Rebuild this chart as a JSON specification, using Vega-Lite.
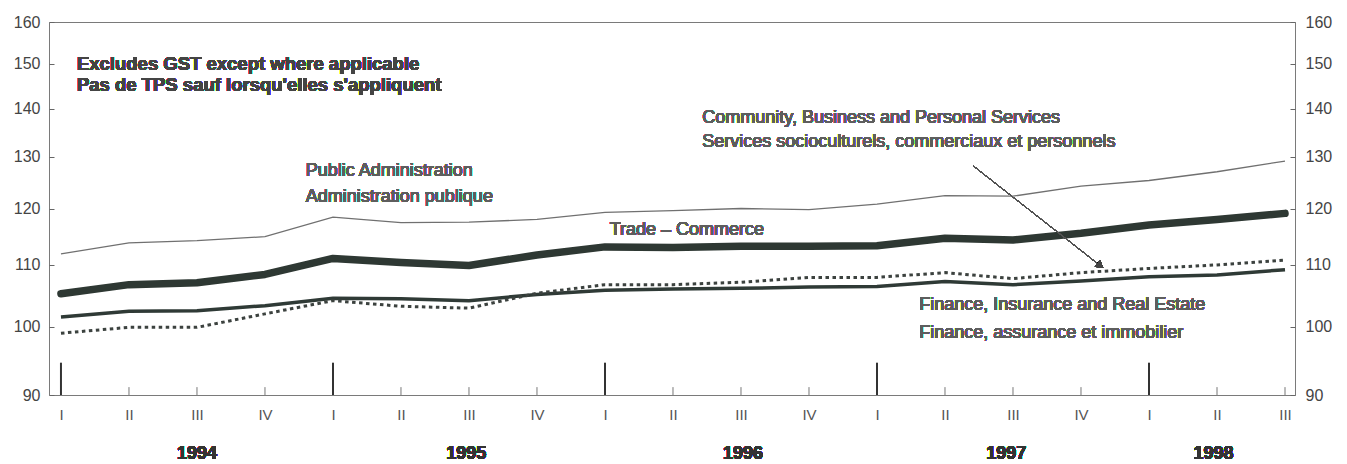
{
  "$schema": "https://vega.github.io/schema/vega-lite/v6.json",
  "autosize": {"type": "none"},
  "width": 1246,
  "height": 373,
  "padding": {"left": 49, "top": 22, "right": 52, "bottom": 69},
  "background": "white",
  "config": {
    "view": {"stroke": "#7a7a7a", "strokeWidth": 1},
    "axis": {"grid": false, "title": null, "domain": false, "labelFont": "Liberation Sans"},
    "text": {"font": "Liberation Sans"}
  },
  "datasets": {
    "series": [
      {"t": 0, "year": 1994, "quarter": "I", "series": "Public Administration", "value": 111.9},
      {"t": 1, "year": 1994, "quarter": "II", "series": "Public Administration", "value": 113.8},
      {"t": 2, "year": 1994, "quarter": "III", "series": "Public Administration", "value": 114.2},
      {"t": 3, "year": 1994, "quarter": "IV", "series": "Public Administration", "value": 114.9},
      {"t": 4, "year": 1995, "quarter": "I", "series": "Public Administration", "value": 118.4},
      {"t": 5, "year": 1995, "quarter": "II", "series": "Public Administration", "value": 117.4},
      {"t": 6, "year": 1995, "quarter": "III", "series": "Public Administration", "value": 117.5},
      {"t": 7, "year": 1995, "quarter": "IV", "series": "Public Administration", "value": 118.0},
      {"t": 8, "year": 1996, "quarter": "I", "series": "Public Administration", "value": 119.3},
      {"t": 9, "year": 1996, "quarter": "II", "series": "Public Administration", "value": 119.6},
      {"t": 10, "year": 1996, "quarter": "III", "series": "Public Administration", "value": 120.0},
      {"t": 11, "year": 1996, "quarter": "IV", "series": "Public Administration", "value": 119.8},
      {"t": 12, "year": 1997, "quarter": "I", "series": "Public Administration", "value": 120.8},
      {"t": 13, "year": 1997, "quarter": "II", "series": "Public Administration", "value": 122.4},
      {"t": 14, "year": 1997, "quarter": "III", "series": "Public Administration", "value": 122.3},
      {"t": 15, "year": 1997, "quarter": "IV", "series": "Public Administration", "value": 124.2},
      {"t": 16, "year": 1998, "quarter": "I", "series": "Public Administration", "value": 125.3},
      {"t": 17, "year": 1998, "quarter": "II", "series": "Public Administration", "value": 127.0},
      {"t": 18, "year": 1998, "quarter": "III", "series": "Public Administration", "value": 129.1},
      {"t": 0, "year": 1994, "quarter": "I", "series": "Trade", "value": 105.2},
      {"t": 1, "year": 1994, "quarter": "II", "series": "Trade", "value": 106.7},
      {"t": 2, "year": 1994, "quarter": "III", "series": "Trade", "value": 107.0},
      {"t": 3, "year": 1994, "quarter": "IV", "series": "Trade", "value": 108.4},
      {"t": 4, "year": 1995, "quarter": "I", "series": "Trade", "value": 111.1},
      {"t": 5, "year": 1995, "quarter": "II", "series": "Trade", "value": 110.4},
      {"t": 6, "year": 1995, "quarter": "III", "series": "Trade", "value": 109.9},
      {"t": 7, "year": 1995, "quarter": "IV", "series": "Trade", "value": 111.7},
      {"t": 8, "year": 1996, "quarter": "I", "series": "Trade", "value": 113.1},
      {"t": 9, "year": 1996, "quarter": "II", "series": "Trade", "value": 113.0},
      {"t": 10, "year": 1996, "quarter": "III", "series": "Trade", "value": 113.2},
      {"t": 11, "year": 1996, "quarter": "IV", "series": "Trade", "value": 113.2},
      {"t": 12, "year": 1997, "quarter": "I", "series": "Trade", "value": 113.3},
      {"t": 13, "year": 1997, "quarter": "II", "series": "Trade", "value": 114.6},
      {"t": 14, "year": 1997, "quarter": "III", "series": "Trade", "value": 114.3},
      {"t": 15, "year": 1997, "quarter": "IV", "series": "Trade", "value": 115.5},
      {"t": 16, "year": 1998, "quarter": "I", "series": "Trade", "value": 117.0},
      {"t": 17, "year": 1998, "quarter": "II", "series": "Trade", "value": 118.0},
      {"t": 18, "year": 1998, "quarter": "III", "series": "Trade", "value": 119.1},
      {"t": 0, "year": 1994, "quarter": "I", "series": "Finance", "value": 101.5},
      {"t": 1, "year": 1994, "quarter": "II", "series": "Finance", "value": 102.4},
      {"t": 2, "year": 1994, "quarter": "III", "series": "Finance", "value": 102.5},
      {"t": 3, "year": 1994, "quarter": "IV", "series": "Finance", "value": 103.3},
      {"t": 4, "year": 1995, "quarter": "I", "series": "Finance", "value": 104.5},
      {"t": 5, "year": 1995, "quarter": "II", "series": "Finance", "value": 104.4},
      {"t": 6, "year": 1995, "quarter": "III", "series": "Finance", "value": 104.1},
      {"t": 7, "year": 1995, "quarter": "IV", "series": "Finance", "value": 105.1},
      {"t": 8, "year": 1996, "quarter": "I", "series": "Finance", "value": 105.8},
      {"t": 9, "year": 1996, "quarter": "II", "series": "Finance", "value": 106.0},
      {"t": 10, "year": 1996, "quarter": "III", "series": "Finance", "value": 106.1},
      {"t": 11, "year": 1996, "quarter": "IV", "series": "Finance", "value": 106.3},
      {"t": 12, "year": 1997, "quarter": "I", "series": "Finance", "value": 106.4},
      {"t": 13, "year": 1997, "quarter": "II", "series": "Finance", "value": 107.2},
      {"t": 14, "year": 1997, "quarter": "III", "series": "Finance", "value": 106.7},
      {"t": 15, "year": 1997, "quarter": "IV", "series": "Finance", "value": 107.3},
      {"t": 16, "year": 1998, "quarter": "I", "series": "Finance", "value": 108.0},
      {"t": 17, "year": 1998, "quarter": "II", "series": "Finance", "value": 108.3},
      {"t": 18, "year": 1998, "quarter": "III", "series": "Finance", "value": 109.2},
      {"t": 0, "year": 1994, "quarter": "I", "series": "Community", "value": 99.0},
      {"t": 1, "year": 1994, "quarter": "II", "series": "Community", "value": 99.9},
      {"t": 2, "year": 1994, "quarter": "III", "series": "Community", "value": 99.9},
      {"t": 3, "year": 1994, "quarter": "IV", "series": "Community", "value": 102.0},
      {"t": 4, "year": 1995, "quarter": "I", "series": "Community", "value": 104.1},
      {"t": 5, "year": 1995, "quarter": "II", "series": "Community", "value": 103.2},
      {"t": 6, "year": 1995, "quarter": "III", "series": "Community", "value": 102.9},
      {"t": 7, "year": 1995, "quarter": "IV", "series": "Community", "value": 105.3},
      {"t": 8, "year": 1996, "quarter": "I", "series": "Community", "value": 106.7},
      {"t": 9, "year": 1996, "quarter": "II", "series": "Community", "value": 106.7},
      {"t": 10, "year": 1996, "quarter": "III", "series": "Community", "value": 107.1},
      {"t": 11, "year": 1996, "quarter": "IV", "series": "Community", "value": 107.9},
      {"t": 12, "year": 1997, "quarter": "I", "series": "Community", "value": 107.9},
      {"t": 13, "year": 1997, "quarter": "II", "series": "Community", "value": 108.7},
      {"t": 14, "year": 1997, "quarter": "III", "series": "Community", "value": 107.7},
      {"t": 15, "year": 1997, "quarter": "IV", "series": "Community", "value": 108.7},
      {"t": 16, "year": 1998, "quarter": "I", "series": "Community", "value": 109.4},
      {"t": 17, "year": 1998, "quarter": "II", "series": "Community", "value": 110.0},
      {"t": 18, "year": 1998, "quarter": "III", "series": "Community", "value": 110.8}
    ]
  },
  "data": {"name": "series"},
  "resolve": {"scale": {"x": "shared", "y": "shared"}, "axis": {"x": "independent", "y": "independent"}},
  "layer": [
    {
      "transform": [{"filter": "datum.series === 'Public Administration'"}],
      "mark": {"type": "line", "color": "#707070", "strokeWidth": 1.3},
      "encoding": {
        "x": {"field": "t", "type": "quantitative", "scale": {"domain": [-0.176, 18.147], "nice": false, "zero": false},
              "axis": {"orient": "bottom", "values": [0,1,2,3,4,5,6,7,8,9,10,11,12,13,14,15,16,17,18],
                       "labelExpr": "['I','II','III','IV'][datum.value % 4]", "ticks": false, "labelPadding": 12,
                       "labelFontSize": 15, "labelColor": "#555", "labelFlush": false, "labelOverlap": false}},
        "y": {"field": "value", "type": "quantitative", "scale": {"type": "log", "domain": [90, 160], "nice": false, "zero": false},
              "axis": {"orient": "left", "values": [90,100,110,120,130,140,150,160], "format": "d", "tickSize": -5,
                       "tickColor": "#666", "labelPadding": 14, "labelFontSize": 16, "labelColor": "#444", "labelOverlap": false}}
      }
    },
    {
      "transform": [{"filter": "datum.series === 'Finance'"}],
      "mark": {"type": "line", "color": "#2f3a36", "strokeWidth": 3.5},
      "encoding": {
        "x": {"field": "t", "type": "quantitative", "axis": null},
        "y": {"field": "value", "type": "quantitative", "scale": {"type": "log", "domain": [90, 160], "nice": false, "zero": false},
              "axis": {"orient": "right", "values": [90,100,110,120,130,140,150,160], "format": "d", "tickSize": -5,
                       "tickColor": "#666", "labelPadding": 15, "labelFontSize": 16, "labelColor": "#444", "labelOverlap": false}}
      }
    },
    {
      "transform": [{"filter": "datum.series === 'Community'"}],
      "mark": {"type": "line", "color": "#3c423f", "strokeWidth": 3, "strokeDash": [3.5, 3.5]},
      "encoding": {
        "x": {"field": "t", "type": "quantitative", "axis": null},
        "y": {"field": "value", "type": "quantitative", "axis": null}
      }
    },
    {
      "transform": [{"filter": "datum.series === 'Trade'"}],
      "mark": {"type": "line", "color": "#2e3833", "strokeWidth": 7.5, "strokeCap": "round", "strokeJoin": "round"},
      "encoding": {
        "x": {"field": "t", "type": "quantitative", "axis": null},
        "y": {"field": "value", "type": "quantitative", "axis": null}
      }
    },
    {
      "transform": [{"filter": "datum.series === 'Trade' && datum.quarter === 'I'"}],
      "mark": {"type": "rule", "color": "#333", "strokeWidth": 2},
      "encoding": {
        "x": {"field": "t", "type": "quantitative", "axis": null},
        "y": {"datum": 90, "axis": null},
        "y2": {"datum": 94.6}
      }
    },
    {
      "transform": [{"filter": "datum.series === 'Trade' && datum.quarter !== 'I'"}],
      "mark": {"type": "rule", "color": "#777", "strokeWidth": 1},
      "encoding": {
        "x": {"field": "t", "type": "quantitative", "axis": null},
        "y": {"datum": 90, "axis": null},
        "y2": {"datum": 91.1}
      }
    },
    {
      "mark": {"type": "rule", "color": "#555", "strokeWidth": 1},
      "encoding": {
        "x": {"datum": 13.42, "axis": null}, "y": {"datum": 128.1, "axis": null},
        "x2": {"datum": 15.27}, "y2": {"datum": 110.0}
      }
    },
    {
      "mark": {"type": "point", "shape": "triangle", "filled": true, "color": "#444", "size": 70, "angle": 128.5, "opacity": 1},
      "encoding": {"x": {"datum": 15.27, "axis": null}, "y": {"datum": 110.0, "axis": null}}
    },
    {
      "mark": {"type": "text", "align": "left", "baseline": "middle", "fontSize": 18.5, "fontWeight": "bold", "color": "#444"},
      "encoding": {"x": {"datum": 0.235, "axis": null}, "y": {"datum": 150.0, "axis": null}, "text": {"value": "Excludes GST except where applicable"}}
    },
    {
      "mark": {"type": "text", "align": "left", "baseline": "middle", "fontSize": 18.5, "fontWeight": "bold", "color": "#444"},
      "encoding": {"x": {"datum": 0.235, "axis": null}, "y": {"datum": 145.1, "axis": null}, "text": {"value": "Pas de TPS sauf lorsqu'elles s'appliquent"}}
    },
    {
      "mark": {"type": "text", "align": "left", "baseline": "middle", "fontSize": 18, "color": "#5e5e5e"},
      "encoding": {"x": {"datum": 3.6, "axis": null}, "y": {"datum": 127.2, "axis": null}, "text": {"value": "Public Administration"}}
    },
    {
      "mark": {"type": "text", "align": "left", "baseline": "middle", "fontSize": 18, "color": "#5e5e5e"},
      "encoding": {"x": {"datum": 3.6, "axis": null}, "y": {"datum": 122.1, "axis": null}, "text": {"value": "Administration publique"}}
    },
    {
      "mark": {"type": "text", "align": "left", "baseline": "middle", "fontSize": 18, "color": "#5e5e5e"},
      "encoding": {"x": {"datum": 8.07, "axis": null}, "y": {"datum": 116.0, "axis": null}, "text": {"value": "Trade – Commerce"}}
    },
    {
      "mark": {"type": "text", "align": "left", "baseline": "middle", "fontSize": 18, "color": "#5e5e5e"},
      "encoding": {"x": {"datum": 9.43, "axis": null}, "y": {"datum": 138.0, "axis": null}, "text": {"value": "Community, Business and Personal Services"}}
    },
    {
      "mark": {"type": "text", "align": "left", "baseline": "middle", "fontSize": 18, "color": "#5e5e5e"},
      "encoding": {"x": {"datum": 9.43, "axis": null}, "y": {"datum": 133.0, "axis": null}, "text": {"value": "Services socioculturels, commerciaux et personnels"}}
    },
    {
      "mark": {"type": "text", "align": "left", "baseline": "middle", "fontSize": 18, "color": "#5e5e5e"},
      "encoding": {"x": {"datum": 12.62, "axis": null}, "y": {"datum": 103.4, "axis": null}, "text": {"value": "Finance, Insurance and Real Estate"}}
    },
    {
      "mark": {"type": "text", "align": "left", "baseline": "middle", "fontSize": 18, "color": "#5e5e5e"},
      "encoding": {"x": {"datum": 12.62, "axis": null}, "y": {"datum": 99.1, "axis": null}, "text": {"value": "Finance, assurance et immobilier"}}
    },
    {
      "mark": {"type": "text", "align": "center", "baseline": "middle", "fontSize": 18, "fontWeight": "bold", "color": "#333"},
      "encoding": {"x": {"datum": 2.0, "axis": null}, "y": {"datum": 82.2, "axis": null}, "text": {"value": "1994"}}
    },
    {
      "mark": {"type": "text", "align": "center", "baseline": "middle", "fontSize": 18, "fontWeight": "bold", "color": "#333"},
      "encoding": {"x": {"datum": 5.96, "axis": null}, "y": {"datum": 82.2, "axis": null}, "text": {"value": "1995"}}
    },
    {
      "mark": {"type": "text", "align": "center", "baseline": "middle", "fontSize": 18, "fontWeight": "bold", "color": "#333"},
      "encoding": {"x": {"datum": 10.03, "axis": null}, "y": {"datum": 82.2, "axis": null}, "text": {"value": "1996"}}
    },
    {
      "mark": {"type": "text", "align": "center", "baseline": "middle", "fontSize": 18, "fontWeight": "bold", "color": "#333"},
      "encoding": {"x": {"datum": 13.9, "axis": null}, "y": {"datum": 82.2, "axis": null}, "text": {"value": "1997"}}
    },
    {
      "mark": {"type": "text", "align": "center", "baseline": "middle", "fontSize": 18, "fontWeight": "bold", "color": "#333"},
      "encoding": {"x": {"datum": 16.95, "axis": null}, "y": {"datum": 82.2, "axis": null}, "text": {"value": "1998"}}
    }
  ]
}
